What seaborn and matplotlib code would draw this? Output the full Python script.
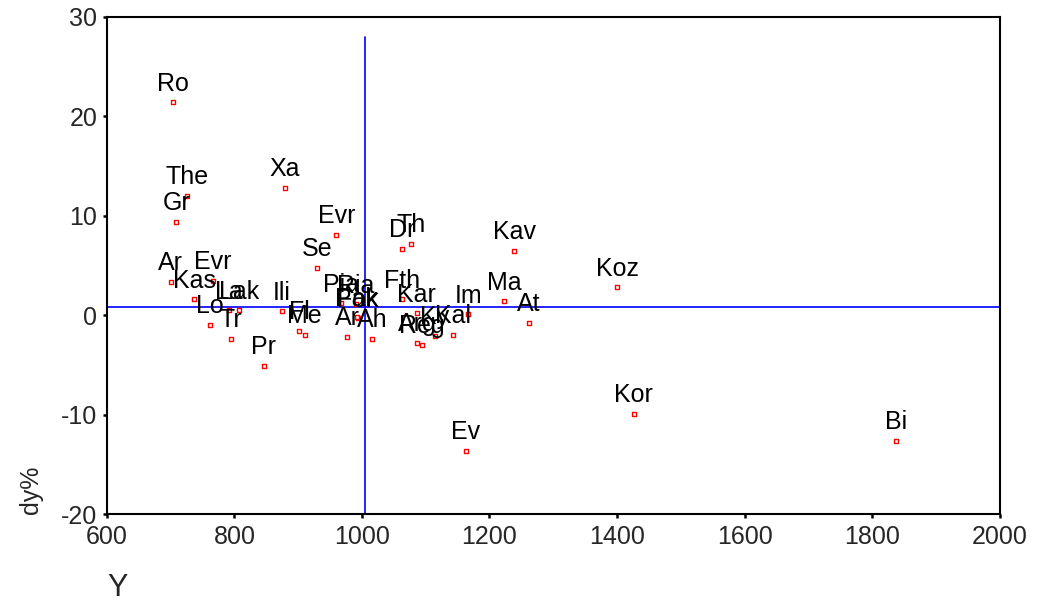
import pandas as pd
import seaborn as sns
import matplotlib.pyplot as plt

# Point labels and values
labels = ["Ro", "The", "Gr", "Xa", "Evr", "Ar", "Evr", "Kas", "Se", "Lo",
          "La", "Lak", "Tr", "Ili", "Fl", "Me", "Pr", "Pia", "Ria", "Fok",
          "Pak", "Ar", "Ah", "Dr", "Th", "Fth", "Kar", "Arg", "Reg", "Ky",
          "Kal", "Im", "Ma", "Kav", "At", "Koz", "Kor", "Bi", "Ev"]
y_vals = [703, 726, 709, 879, 960, 700, 766, 737, 930, 762,
          792, 807, 795, 874, 902, 910, 846, 967, 990, 994,
          992, 977, 1016, 1063, 1077, 1063, 1086, 1087, 1094, 1114,
          1142, 1167, 1223, 1239, 1262, 1400, 1426, 1837, 1163]
dy_vals = [21.4, 12.0, 9.4, 12.8, 8.1, 3.4, 3.5, 1.6, 4.8, -1.0,
           0.5, 0.5, -2.4, 0.4, -1.6, -2.0, -5.1, 1.2, 1.1, -0.3,
           -0.2, -2.2, -2.35, 6.7, 7.2, 1.6, 0.2, -2.8, -3.0, -2.1,
           -2.0, 0.1, 1.4, 6.5, -0.8, 2.8, -9.9, -12.6, -13.6]

# reference lines (means)
mean_y = 1005
mean_dy = 0.8

x_ticks = [600, 800, 1000, 1200, 1400, 1600, 1800, 2000]
y_ticks = [-20, -10, 0, 10, 20, 30]

df = pd.DataFrame({"label": labels, "Y": y_vals, "dy": dy_vals})

sns.set_style("ticks")
plt.rcParams["font.family"] = ["Liberation Sans", "DejaVu Sans"]

fig = plt.figure(figsize=(10.38, 6.05), dpi=100)
ax = fig.add_axes([0.103, 0.150, 0.860, 0.822])

sns.scatterplot(data=df, x="Y", y="dy", marker="s", s=9, color="white",
                edgecolor="red", linewidth=1.0, ax=ax, zorder=3)

for _, row in df.iterrows():
    ax.annotate(row["label"], (row["Y"], row["dy"]), xytext=(0, 8.5),
                textcoords="offset points", ha="center", va="baseline",
                fontsize=18, color="black", zorder=4)

ax.plot([mean_y, mean_y], [-20, 28], color="blue", lw=1.2, zorder=2)
ax.plot([600, 2000], [mean_dy, mean_dy], color="blue", lw=1.2, zorder=2)

ax.set_xlim(600, 2000)
ax.set_ylim(-20, 30)
ax.set_xticks(x_ticks)
ax.set_yticks(y_ticks)
ax.set_xticklabels([str(t) for t in x_ticks], fontsize=18)
ax.set_yticklabels([str(t) for t in y_ticks], fontsize=18)
ax.tick_params(direction="out", length=3, width=1.8, color="black", pad=4)
ax.tick_params(axis="x", pad=5)
for sp in ax.spines.values():
    sp.set_visible(True)
    sp.set_linewidth(1.5)
    sp.set_color("black")
ax.set_xlabel("")
ax.set_ylabel("")

fig.text(0.113, 0.003, "Y", fontsize=22, ha="center", va="bottom")
fig.text(0.030, 0.19, "dy%", fontsize=18, rotation=90, ha="center", va="center")

fig.savefig("out.png", dpi=100, facecolor="white")
